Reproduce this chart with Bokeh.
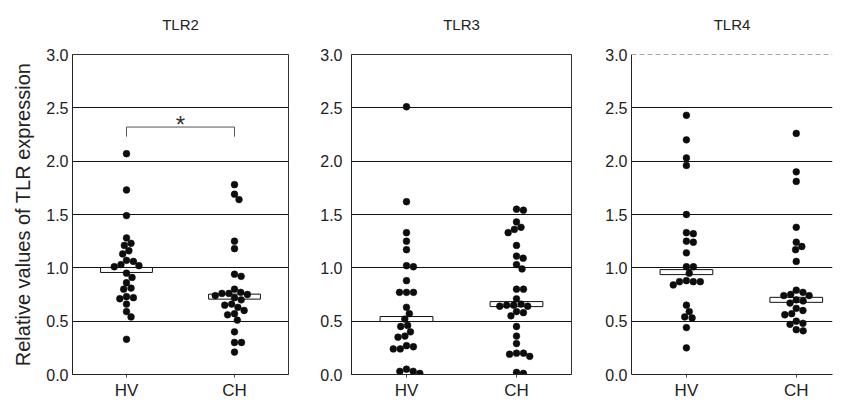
import math
from bokeh.plotting import figure
from bokeh.layouts import row
from bokeh.models import Range1d, FixedTicker, PrintfTickFormatter, Span, ColumnDataSource, Title
from bokeh.core.properties import value
from bokeh.embed import file_html
from bokeh.resources import INLINE

# ---------------- data ----------------
groups = ["HV", "CH"]
panel_titles = ["TLR2", "TLR3", "TLR4"]
y_label = "Relative values of TLR expression"
y_ticks = [0.0, 0.5, 1.0, 1.5, 2.0, 2.5, 3.0]

tlr2_hv = [2.07, 1.73, 1.49, 1.28, 1.23, 1.21, 1.16, 1.13, 1.07, 1.06, 1.03, 1.02,
           1.01, 0.95, 0.91, 0.86, 0.81, 0.80, 0.73, 0.72, 0.71, 0.66, 0.59, 0.54, 0.33]
tlr2_ch = [1.78, 1.69, 1.64, 1.25, 1.18, 0.94, 0.92, 0.80, 0.77, 0.76, 0.76, 0.75,
           0.74, 0.72, 0.70, 0.66, 0.65, 0.63, 0.60, 0.57, 0.56, 0.51, 0.40, 0.30,
           0.30, 0.21]
tlr3_hv = [2.51, 1.62, 1.33, 1.25, 1.17, 1.02, 1.01, 0.88, 0.77, 0.77, 0.77, 0.63,
           0.57, 0.52, 0.46, 0.45, 0.40, 0.36, 0.35, 0.27, 0.26, 0.24, 0.24, 0.05,
           0.03, 0.03, 0.01]
tlr3_ch = [1.55, 1.54, 1.43, 1.38, 1.36, 1.33, 1.21, 1.11, 1.09, 1.03, 0.99, 0.80,
           0.80, 0.71, 0.66, 0.65, 0.65, 0.64, 0.64, 0.59, 0.58, 0.55, 0.45, 0.36,
           0.29, 0.20, 0.20, 0.19, 0.17, 0.02, 0.01]
tlr4_hv = [2.43, 2.20, 2.03, 1.96, 1.50, 1.33, 1.32, 1.25, 1.24, 1.14, 1.01, 1.01,
           0.95, 0.88, 0.87, 0.87, 0.87, 0.84, 0.65, 0.59, 0.54, 0.53, 0.44, 0.25]
tlr4_ch = [2.26, 1.90, 1.81, 1.38, 1.24, 1.20, 1.17, 1.06, 0.79, 0.77, 0.75, 0.74,
           0.74, 0.70, 0.69, 0.67, 0.62, 0.60, 0.57, 0.56, 0.50, 0.48, 0.47, 0.42,
           0.41]

tlr2_median = [0.98, 0.73]
tlr3_median = [0.52, 0.66]
tlr4_median = [0.96, 0.70]

# significance bracket (TLR2, HV vs CH)
bracket_low = 2.23
bracket_high = 2.32
sig_text = "*"

panel_values = [[tlr2_hv, tlr2_ch], [tlr3_hv, tlr3_ch], [tlr4_hv, tlr4_ch]]
panel_medians = [tlr2_median, tlr3_median, tlr4_median]

# ---------------- layout / style ----------------
FRAME_H = 320
frame_w = [216, 220, 201]
x_span = [2.0, 2.0, 1.83]
border_left = [72, 59, 56]
border_right = [4, 4, 2]
tick_standoff = [4, 9, 4]
FONT = "Liberation Sans"
DOT = 6.8
INK = "#0d0d0d"


def swarm(vals, d, ypx, xpx):
    """Beeswarm offsets (data units) so that dots of diameter d px do not overlap."""
    n = len(vals)
    order = sorted(range(n), key=lambda i: -vals[i])
    placed = []
    xs = [0.0] * n
    for i in order:
        y = vals[i] * ypx
        cands = [0.0]
        for (px, py) in placed:
            dy = abs(y - py)
            if dy < d:
                dx = math.sqrt(d * d - dy * dy)
                cands += [px + dx, px - dx]
        cands.sort(key=abs)
        chosen = 0.0
        for c in cands:
            if all((c - px) ** 2 + (y - py) ** 2 >= d * d - 1e-6 for px, py in placed):
                chosen = c
                break
        placed.append((chosen, y))
        xs[i] = chosen / xpx
    return xs


figs = []
for k in range(3):
    p = figure(frame_width=frame_w[k], frame_height=FRAME_H,
               x_range=Range1d(0, x_span[k]), y_range=Range1d(0, 3.0),
               output_backend="svg", toolbar_location=None,
               min_border_left=border_left[k], min_border_right=border_right[k],
               min_border_top=54, min_border_bottom=26,
               background_fill_color="white", border_fill_color="white")
    # real panel title (outer) and an empty spacer title between it and the frame
    p.title.text = panel_titles[k]
    p.title.align = "center"
    p.title.text_font = FONT
    p.title.text_font_size = "15px"
    p.title.text_font_style = "normal"
    p.title.text_color = "#222222"
    p.title.standoff = 8
    p.add_layout(Title(text=" ", text_font=FONT, text_font_size="14px",
                       standoff=0), "above")

    if k < 2:
        p.outline_line_color = "#333333"
        p.outline_line_width = 1
    else:
        p.outline_line_color = None

    positions = [i + 0.5 for i in range(len(groups))]

    # axes
    p.xaxis.ticker = FixedTicker(ticks=positions)
    p.xaxis.major_label_overrides = {pos: g for pos, g in zip(positions, groups)}
    p.xaxis.major_label_text_font = FONT
    p.xaxis.major_label_text_font_size = "17px"
    p.xaxis.major_label_text_color = "#222222"
    p.xaxis.major_tick_in = 0
    p.xaxis.major_tick_out = 3
    p.xaxis.minor_tick_line_color = None
    p.xaxis.major_label_standoff = 3
    p.xaxis.axis_line_color = "#222222"
    p.xaxis.major_tick_line_color = "#444444"

    p.yaxis.ticker = FixedTicker(ticks=y_ticks)
    p.yaxis.formatter = PrintfTickFormatter(format="%.1f")
    p.yaxis.major_label_text_font = FONT
    p.yaxis.major_label_text_font_size = "16px"
    p.yaxis.major_label_text_color = "#222222"
    p.yaxis.major_tick_in = 0
    p.yaxis.major_tick_out = 0
    p.yaxis.minor_tick_line_color = None
    p.yaxis.major_label_standoff = tick_standoff[k]
    p.yaxis.axis_line_color = "#222222"
    if k == 0:
        p.yaxis.axis_label = y_label
        p.yaxis.axis_label_text_font = FONT
        p.yaxis.axis_label_text_font_size = "20px"
        p.yaxis.axis_label_text_font_style = "normal"
        p.yaxis.axis_label_text_color = "#222222"
        p.yaxis.axis_label_standoff = 9

    # grid
    p.xgrid.grid_line_color = None
    if k < 2:
        p.ygrid.ticker = FixedTicker(ticks=y_ticks)
    else:
        p.ygrid.ticker = FixedTicker(ticks=y_ticks[:-1])
        p.add_layout(Span(location=y_ticks[-1], dimension="width",
                          line_color="#555555", line_width=1, line_dash="5 3"))
    p.ygrid.grid_line_color = "#111111"
    p.ygrid.grid_line_width = 1

    ypx = FRAME_H / 3.0
    xpx = frame_w[k] / x_span[k]

    # median bars
    p.rect(x=positions, y=panel_medians[k], width=0.48, height=5,
           height_units="screen", fill_color="white", line_color="#111111",
           line_width=1)

    # dots
    for gi, vals in enumerate(panel_values[k]):
        offs = swarm(vals, DOT + 0.2, ypx, xpx)
        src = ColumnDataSource(dict(x=[positions[gi] + o for o in offs], y=vals))
        p.scatter(x="x", y="y", source=src, size=DOT, fill_color=INK,
                  line_color=INK, line_width=0.5)

    if k == 0:
        p.line(x=[positions[0], positions[0], positions[1], positions[1]],
               y=[bracket_low, bracket_high, bracket_high, bracket_low],
               line_color="#555555", line_width=1)
        p.text(x=[(positions[0] + positions[1]) / 2], y=[bracket_high],
               text=[sig_text], text_font=value(FONT), text_font_size="24px",
               text_align="center", text_baseline="alphabetic", text_color="#333333",
               y_offset=-3)

    figs.append(p)

layout = row(*figs)
open("out.html", "w").write(file_html(layout, INLINE))
